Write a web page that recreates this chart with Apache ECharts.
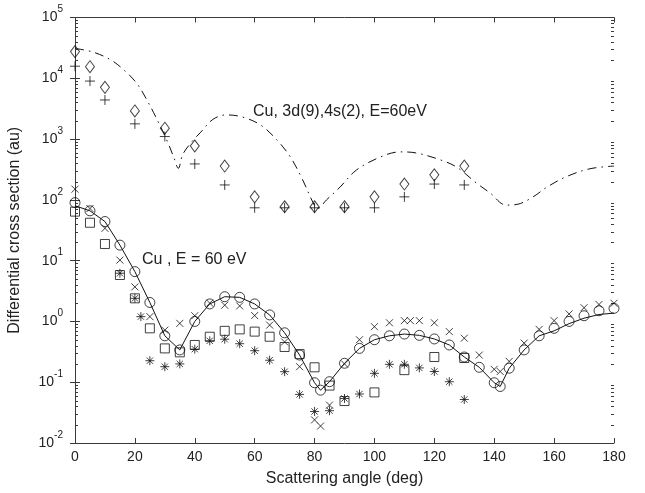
<!DOCTYPE html>
<html>
<head>
<meta charset="utf-8">
<script src="https://cdn.jsdelivr.net/npm/echarts@6/dist/echarts.min.js"></script>
<style>
  html, body { margin: 0; padding: 0; background: #ffffff; }
  #chart { width: 645px; height: 493px; }
</style>
</head>
<body>
<div id="chart"></div>
<script>
// Cu, 3d(9),4s(2), E = 60 eV : calculated curve (dash-dot)
const curveAtom = [
  [0, 31000], [6, 27000], [12, 20000], [17, 12800], [21, 7800], [24, 4400],
  [27, 2300], [30.5, 1000], [33, 500], [34.5, 330], [36, 560], [39, 900],
  [42, 1300], [46, 2100], [50.5, 2500], [56, 2300], [62, 1700], [67.5, 960],
  [72, 500], [76, 215], [79.5, 90], [81, 72], [84, 100], [88.5, 162],
  [94, 310], [102, 507], [108.5, 615], [114, 590], [122, 455], [127.5, 345],
  [134, 190], [138.6, 130], [144, 82], [148, 85], [153, 112], [157.6, 162],
  [164, 240], [172, 325], [180, 360]
];

// upper group: measured points (diamonds and plus signs)
const upperAngles = [0, 5, 10, 20, 30, 40, 50, 60, 70, 80, 90, 100, 110, 120, 130];
const upperDiamond = [27500, 15500, 7100, 2900, 1510, 770, 360, 112, 77, 77, 77, 112, 182, 258, 360];
const upperPlus = [15800, 9000, 4400, 1780, 1100, 390, 176, 74, 74, 74, 74, 74, 112, 182, 176];

// Cu, E = 60 eV : solid curve and circles
const circleAngles = [0, 5, 10, 15, 20, 25, 30, 35, 40, 45, 50, 55, 60, 65, 70, 75, 80, 82, 85,
  90, 95, 100, 105, 110, 115, 120, 125, 130, 135, 140, 142, 145, 150, 155, 160, 165, 170, 175, 180];
const circleValues = [90, 66, 44, 18, 6.6, 2.05, 0.58, 0.34, 1.0, 1.94, 2.55, 2.49, 1.94, 1.28,
  0.65, 0.28, 0.098, 0.074, 0.102, 0.205, 0.36, 0.50, 0.58, 0.62, 0.59, 0.515, 0.41, 0.26, 0.176,
  0.098, 0.085, 0.17, 0.34, 0.58, 0.77, 1.0, 1.24, 1.5, 1.64];
const lineValues = [80, 66, 44, 18, 6.6, 2.05, 0.58, 0.34, 1.0, 1.94, 2.55, 2.49, 1.94, 1.28,
  0.65, 0.28, 0.098, 0.074, 0.102, 0.205, 0.36, 0.50, 0.58, 0.62, 0.59, 0.515, 0.41, 0.26, 0.176,
  0.098, 0.085, 0.17, 0.34, 0.58, 0.70, 0.92, 1.13, 1.30, 1.37];

// crosses
const crossAngles = [0, 5, 10, 15, 20, 25, 30, 35, 40, 45, 50, 55, 60, 65, 70, 75, 80, 82, 85, 90,
  95, 100, 105, 110, 112, 115, 120, 125, 130, 135, 140, 142, 145, 150, 155, 160, 165, 170, 175, 180];
const crossValues = [150, 72, 34, 10.2, 3.7, 1.2, 0.72, 0.93, 1.24, 2.0, 1.85, 1.8, 1.25, 0.87,
  0.46, 0.18, 0.024, 0.019, 0.042, 0.2, 0.50, 0.82, 0.95, 1.03, 1.03, 1.03, 0.95, 0.68, 0.53, 0.28,
  0.163, 0.15, 0.22, 0.44, 0.74, 1.03, 1.33, 1.68, 1.9, 1.99];

// squares
const squareAngles = [0, 5, 10, 15, 20, 25, 30, 35, 40, 45, 50, 55, 60, 65, 70, 75, 80, 85, 90, 100, 110, 120, 130];
const squareValues = [64, 42, 18.8, 5.8, 2.4, 0.77, 0.36, 0.31, 0.41, 0.56, 0.70, 0.74, 0.68,
  0.56, 0.38, 0.29, 0.176, 0.088, 0.049, 0.068, 0.158, 0.26, 0.25];

// asterisks
const starAngles = [15, 20, 22, 25, 30, 35, 40, 45, 50, 55, 60, 65, 70, 75, 80, 85, 90, 95, 100,
  105, 110, 115, 120, 125, 130];
const starValues = [6.2, 2.4, 1.2, 0.226, 0.18, 0.20, 0.35, 0.48, 0.51, 0.43, 0.33, 0.23, 0.149,
  0.063, 0.033, 0.034, 0.054, 0.064, 0.14, 0.197, 0.197, 0.172, 0.15, 0.102, 0.052];

// axes
const xTicks = [0, 20, 40, 60, 80, 100, 120, 140, 160, 180];
const yDecades = [0.01, 0.1, 1, 10, 100, 1000, 10000, 100000];
const minorMantissas = [2, 3, 4, 5, 6, 7, 8, 9];

const INK = '#111111';
const AXIS = '#3a3a3a';
const TEXT = '#222222';
const FONT = '"Liberation Sans", Arial, Helvetica, sans-serif';

const zip = (xs, ys) => xs.map((x, i) => [x, ys[i]]);

const minorTicks = [];
yDecades.slice(0, -1).forEach(d => minorMantissas.forEach(m => minorTicks.push([0, m * d])));

const PLUS = 'path://M0,5L10,5M5,0L5,10';
const CROSS = 'path://M0,0L10,10M10,0L0,10';
const STAR = 'path://M0,5L10,5M5,0L5,10M1.5,1.5L8.5,8.5M8.5,1.5L1.5,8.5';

const hollow = { color: 'none', borderColor: INK, borderWidth: 1 };

function markers(name, data, symbol, size) {
  return {
    name, type: 'scatter', data, symbol, symbolSize: size,
    itemStyle: hollow, silent: true, z: 5, clip: false
  };
}

const chart = echarts.init(document.getElementById('chart'), null, { renderer: 'canvas' });

const logLabel = v => '{b|10}{s|' + Math.round(Math.log10(v)) + '}';

const yCommon = {
  type: 'log', logBase: 10, min: 0.01, max: 100000,
  axisLine: { show: true, lineStyle: { color: AXIS, width: 1 } },
  axisTick: { show: true, inside: true, length: 5, lineStyle: { color: AXIS } },
  splitLine: { show: false },
  minorTick: { show: false }
};
const xCommon = {
  type: 'value', min: 0, max: 180, interval: 20,
  axisLine: { show: true, onZero: false, lineStyle: { color: AXIS, width: 1 } },
  axisTick: { show: true, inside: true, length: 5, lineStyle: { color: AXIS } },
  splitLine: { show: false }
};

chart.setOption({
  animation: false,
  backgroundColor: '#ffffff',
  textStyle: { fontFamily: FONT },
  grid: { left: 75, right: 31, top: 17.5, bottom: 50, containLabel: false, outerBoundsMode: 'none' },
  xAxis: [
    Object.assign({}, xCommon, {
      position: 'bottom',
      name: 'Scattering angle (deg)', nameLocation: 'middle', nameGap: 28,
      nameTextStyle: { color: TEXT, fontSize: 16, fontFamily: FONT },
      axisLabel: { color: TEXT, fontSize: 14, fontFamily: FONT, margin: 7,
        formatter: v => (xTicks.indexOf(v) >= 0 ? String(v) : '') }
    }),
    Object.assign({}, xCommon, { position: 'top', axisLabel: { show: false } })
  ],
  yAxis: [
    Object.assign({}, yCommon, {
      position: 'left',
      name: 'Differential cross section (au)', nameLocation: 'middle', nameGap: 52,
      nameTextStyle: { color: TEXT, fontSize: 16, fontFamily: FONT },
      axisLabel: {
        color: TEXT, margin: 12, formatter: logLabel,
        rich: {
          b: { fontSize: 14, fontFamily: FONT, color: TEXT },
          s: { fontSize: 10, fontFamily: FONT, color: TEXT, padding: [0, 0, 16, 0] }
        }
      }
    }),
    Object.assign({}, yCommon, { position: 'right', axisLabel: { show: false } })
  ],
  graphic: [
    { type: 'text', x: 253, y: 112, silent: true,
      style: { text: 'Cu, 3d(9),4s(2), E=60eV', font: '16px ' + FONT, fill: TEXT, verticalAlign: 'middle' } },
    { type: 'text', x: 142, y: 260, silent: true,
      style: { text: 'Cu , E = 60 eV', font: '16px ' + FONT, fill: TEXT, verticalAlign: 'middle' } }
  ],
  series: [
    {
      name: 'minor ticks', type: 'custom', silent: true, z: 1, clip: false,
      data: minorTicks,
      renderItem: (params, api) => {
        const v = api.value(1);
        const l = api.coord([0, v]);
        const r = api.coord([180, v]);
        const y = Math.round(l[1]) + 0.5;
        return {
          type: 'group',
          children: [
            { type: 'line', shape: { x1: l[0], y1: y, x2: l[0] + 3, y2: y }, style: { stroke: AXIS, lineWidth: 1 } },
            { type: 'line', shape: { x1: r[0], y1: y, x2: r[0] - 3, y2: y }, style: { stroke: AXIS, lineWidth: 1 } }
          ]
        };
      }
    },
    {
      name: 'Cu 3d9 4s2 curve', type: 'line', data: curveAtom, smooth: 0.35,
      showSymbol: false, silent: true, z: 3,
      lineStyle: { color: INK, width: 1, type: [9, 5, 1.5, 5] }
    },
    markers('diamond', zip(upperAngles, upperDiamond), 'diamond', [9, 12]),
    markers('plus', zip(upperAngles, upperPlus), PLUS, 10),
    {
      name: 'Cu curve', type: 'line', data: zip(circleAngles, lineValues),
      showSymbol: false, silent: true, z: 3,
      lineStyle: { color: INK, width: 1, type: 'solid' }
    },
    markers('circle', zip(circleAngles, circleValues), 'circle', 10),
    markers('cross', zip(crossAngles, crossValues), CROSS, 7),
    markers('square', zip(squareAngles, squareValues), 'rect', 9),
    markers('star', zip(starAngles, starValues), STAR, 9)
  ]
});
</script>
</body>
</html>
